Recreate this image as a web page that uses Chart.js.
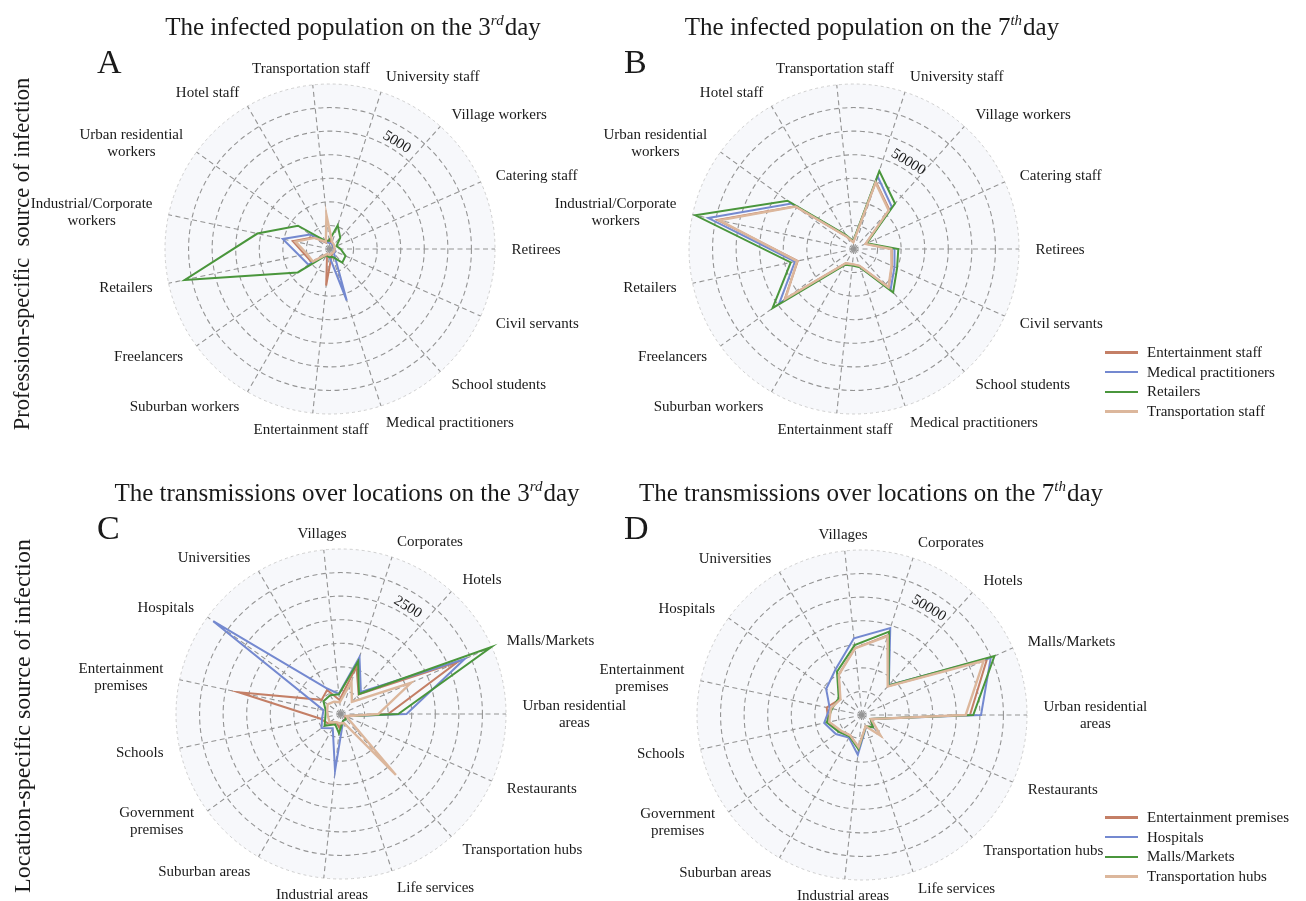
<!DOCTYPE html>
<html>
<head>
<meta charset="utf-8">
<script src="https://cdn.jsdelivr.net/npm/chart.js@4.4.1/dist/chart.umd.min.js"></script>
<style>
  body { margin: 0; background: #fff; font-family: "Liberation Serif", "Times New Roman", serif; color: #1a1a1a; }
  #wrap { position: relative; width: 1306px; height: 901px; overflow: hidden; }
  canvas { position: absolute; left: 0; top: 0; pointer-events: none; }
  .title { position: absolute; font-size: 25px; line-height: 1; white-space: nowrap; transform: translateX(-50%); }
  .title sup { font-style: italic; font-size: 15px; line-height: 0; vertical-align: 10px; padding-right: 1px; }
  .letter { position: absolute; font-size: 34px; line-height: 1; }
  .row { position: absolute; white-space: pre; transform: translate(-50%, -50%) rotate(-90deg); }
  .legend { position: absolute; font-size: 15px; }
  .legend div { height: 19.6px; line-height: 19.6px; white-space: nowrap; }
  .legend span { display: inline-block; width: 33px; height: 2.5px; vertical-align: middle; margin-right: 9px; position: relative; top: -1px; }
</style>
</head>
<body>
<div id="wrap">
  <canvas id="chartA" width="1306" height="901"></canvas>
  <canvas id="chartB" width="1306" height="901"></canvas>
  <canvas id="chartC" width="1306" height="901"></canvas>
  <canvas id="chartD" width="1306" height="901"></canvas>

  <div class="title" style="left:353px;top:14px">The infected population on the 3<sup>rd</sup>day</div>
  <div class="title" style="left:872px;top:14px">The infected population on the 7<sup>th</sup>day</div>
  <div class="title" style="left:347px;top:480px">The transmissions over locations on the 3<sup>rd</sup>day</div>
  <div class="title" style="left:871px;top:480px">The transmissions over locations on the 7<sup>th</sup>day</div>

  <div class="letter" style="left:97px;top:45px">A</div>
  <div class="letter" style="left:624px;top:45px">B</div>
  <div class="letter" style="left:97px;top:511px">C</div>
  <div class="letter" style="left:624px;top:511px">D</div>

  <div class="row" style="left:22px;top:254px;font-size:22.5px">Profession-specific  source of infection</div>
  <div class="row" style="left:22px;top:716px;font-size:24px">Location-specific source of infection</div>

  <div class="legend" id="legendB" style="left:1105px;top:343px"></div>
  <div class="legend" id="legendD" style="left:1105px;top:808px"></div>
</div>

<script>
// categories, in Chart.js order: clockwise starting at the right-hand spoke
const professionCats = ["Retirees", "Civil servants", "School students", "Medical practitioners",
  "Entertainment staff", "Suburban workers", "Freelancers", "Retailers",
  ["Industrial/Corporate", "workers"], ["Urban residential", "workers"], "Hotel staff",
  "Transportation staff", "University staff", "Village workers", "Catering staff"];
const locationCats = [["Urban residential", "areas"], "Restaurants", "Transportation hubs", "Life services",
  "Industrial areas", "Suburban areas", ["Government", "premises"], "Schools",
  ["Entertainment", "premises"], "Hospitals", "Universities", "Villages",
  "Corporates", "Hotels", "Malls/Markets"];

const professionSeries = ["Entertainment staff", "Medical practitioners", "Retailers", "Transportation staff"];
const locationSeries = ["Entertainment premises", "Hospitals", "Malls/Markets", "Transportation hubs"];
const colours = ["#c47f66", "#7489d0", "#4a963c", "#dcb79c"];

// A - infected population, 3rd day
const a3Entertainment = [200, 250, 200, 250, 1560, 250, 950, 1100, 1610, 850, 300, 400, 250, 200, 150];
const a3Medical       = [200, 250, 250, 2300, 300, 250, 1130, 1330, 2050, 1050, 350, 250, 250, 200, 150];
const a3Retailers     = [450, 720, 780, 350, 350, 300, 1690, 6300, 3150, 1680, 400, 350, 1060, 650, 300];
const a3Transport     = [200, 200, 200, 200, 250, 250, 900, 1000, 1500, 800, 350, 1460, 300, 250, 200];

// B - infected population, 7th day
const b7Entertainment = [20000, 22000, 27500, 9500, 8200, 8800, 45500, 30500, 74000, 38500, 7600, 3700, 37500, 28000, 6800];
const b7Medical       = [21500, 23500, 29000, 9800, 8500, 9300, 49000, 32000, 79000, 41000, 8000, 4000, 40500, 30000, 7000];
const b7Retailers     = [23500, 25000, 31000, 10200, 8800, 9700, 53400, 34300, 86000, 43600, 8500, 4200, 43500, 32500, 7400];
const b7Transport     = [19800, 21800, 27300, 9400, 8100, 8700, 45000, 30800, 73000, 38300, 7500, 3600, 37000, 27500, 6700];

// C - transmissions over locations, 3rd day
const c3Entertainment = [1000, 100, 130, 150, 300, 200, 340, 460, 2220, 510, 590, 300, 1060, 560, 2705];
const c3Hospitals     = [1390, 120, 150, 150, 1215, 350, 510, 410, 380, 3350, 640, 430, 1270, 630, 2870];
const c3Malls         = [1215, 120, 150, 150, 410, 250, 430, 340, 330, 460, 460, 420, 1170, 570, 3490];
const c3Transport     = [790, 120, 1740, 200, 200, 200, 300, 280, 300, 350, 300, 250, 720, 345, 1625];

// D - transmissions over locations, 7th day
const d7Entertainment = [45800, 4000, 6800, 5000, 13800, 10000, 11500, 14500, 15300, 11500, 19800, 28500, 35600, 16500, 58000];
const d7Hospitals     = [50500, 4200, 7000, 5500, 17000, 11100, 13700, 16400, 14000, 18800, 22400, 32700, 38800, 17000, 59800];
const d7Malls         = [47200, 4100, 6900, 5200, 14600, 10500, 12200, 15300, 13000, 12200, 21200, 29800, 37200, 16800, 61500];
const d7Transport     = [44000, 4300, 11800, 5000, 13700, 10000, 11200, 14200, 13500, 11300, 19700, 28400, 35200, 16300, 56500];

// radial axis: outer value, ring step, labelled tick
const rMax   = [7000, 87500, 3500, 70000];
const rStep  = [1000, 12500, 500, 10000];
const rTicks = [5000, 50000, 2500, 50000];

// point labels placed like matplotlib: anchored at 1.1 R, aligned by side
const mplLabels = {
  id: "mplLabels",
  afterDraw(chart, args, opts) {
    const s = chart.scales.r;
    const ctx = chart.ctx;
    ctx.save();
    ctx.font = '15px "Liberation Serif"';
    ctx.fillStyle = "#1a1a1a";
    ctx.textBaseline = "middle";
    ctx.textAlign = "center";
    chart.data.labels.forEach((lab, i) => {
      const lines = Array.isArray(lab) ? lab : [lab];
      const p = s.getPointPosition(i, s.drawingArea * 1.1);
      const c = Math.cos(s.getIndexAngle(i) - Math.PI / 2);
      const w = Math.max(...lines.map(t => ctx.measureText(t).width));
      const x0 = c > 0.2 ? p.x : (c < -0.2 ? p.x - w : p.x - w / 2);
      const y0 = p.y + 1 - (lines.length - 1) * 8.5;
      lines.forEach((t, k) => ctx.fillText(t, x0 + w / 2, y0 + k * 17));
    });
    // the one radial tick label, written along the ring
    const ang = -58 * Math.PI / 180;
    const d = s.getDistanceFromCenterForValue(opts.rTick) + 8;
    ctx.translate(s.xCenter + d * Math.cos(ang), s.yCenter + d * Math.sin(ang));
    ctx.rotate(Math.PI / 2 + ang);
    ctx.fillText(String(opts.rTick), 0, 0);
    ctx.restore();
  }
};

function radar(id, cx, cy, R, labels, series, k) {
  const top = rMax[k];
  const outer = c => c.tick && c.tick.value >= top;
  new Chart(document.getElementById(id), {
    type: "radar",
    data: {
      labels: labels,
      datasets: series.map((d, i) => ({
        data: d,
        borderColor: colours[i],
        borderWidth: i === 3 ? 2.4 : 2,
        pointRadius: 0,
        fill: false,
        order: 3 - i
      }))
    },
    options: {
      responsive: false,
      animation: false,
      layout: { padding: { left: cx - R, top: cy - R, right: 1306 - cx - R, bottom: 901 - cy - R } },
      plugins: { legend: { display: false }, tooltip: { enabled: false }, mplLabels: { rTick: rTicks[k] } },
      scales: {
        r: {
          min: 0,
          max: top,
          startAngle: 90,
          backgroundColor: "#f7f8fb",
          ticks: { display: false, stepSize: rStep[k] },
          pointLabels: { display: false },
          grid: {
            circular: true,
            color: c => outer(c) ? "#c4c4c4" : "#949494",
            lineWidth: c => outer(c) ? 0.8 : 1.1
          },
          border: { dash: c => outer(c) ? [3, 3] : [5, 3.5] },
          angleLines: { color: "#949494", lineWidth: 1.1, borderDash: [5, 3.5] }
        }
      }
    },
    plugins: [mplLabels]
  });
}

radar("chartA", 330, 249, 165, professionCats, [a3Entertainment, a3Medical, a3Retailers, a3Transport], 0);
radar("chartB", 854, 249, 165, professionCats, [b7Entertainment, b7Medical, b7Retailers, b7Transport], 1);
radar("chartC", 341, 714, 165, locationCats, [c3Entertainment, c3Hospitals, c3Malls, c3Transport], 2);
radar("chartD", 862, 715, 165, locationCats, [d7Entertainment, d7Hospitals, d7Malls, d7Transport], 3);

function legend(id, names) {
  document.getElementById(id).innerHTML = names.map((n, i) =>
    '<div><span style="background:' + colours[i] + '"></span>' + n + '</div>').join("");
}
legend("legendB", professionSeries);
legend("legendD", locationSeries);
</script>
</body>
</html>
